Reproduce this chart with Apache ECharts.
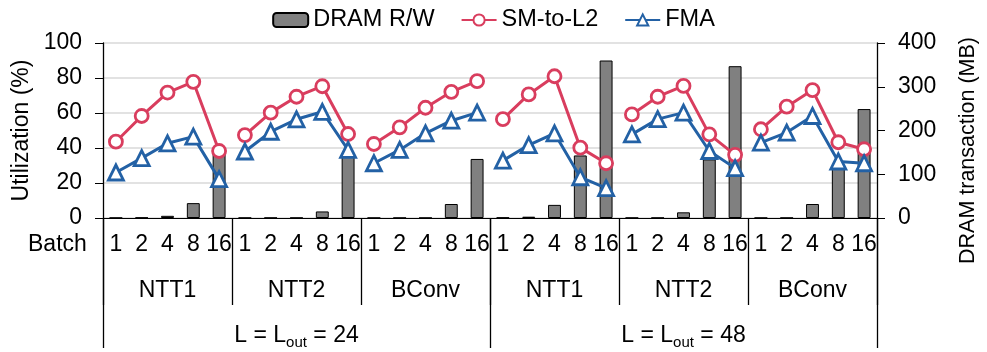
<!DOCTYPE html>
<html>
<head>
<meta charset="utf-8">
<script src="https://cdn.jsdelivr.net/npm/echarts@6/dist/echarts.min.js"></script>
<style>
  html, body { margin: 0; padding: 0; background: #fff; }
  #chart { width: 987px; height: 352px; }
</style>
</head>
<body>
<div id="chart"></div>
<script>
var batches = ["1", "2", "4", "8", "16"];
var kernels = ["NTT1", "NTT2", "BConv"];
var groups = ["24", "48"];

// DRAM R/W (MB), right axis
var dramRW = [0.5, 1, 5, 34, 155,   0.5, 0.5, 0.5, 15, 140,   0.3, 0.3, 0.3, 32, 135,
              1, 3, 30, 143, 360,   0.5, 0.5, 13, 134, 347,   0.3, 0.3, 32, 112, 249];
// utilization (%), left axis
var smToL2 = [43.6, 58.3, 71.7, 77.8, 38.3,   47.4, 60.2, 69.3, 75.3, 48.0,   42.3, 51.8, 63.0, 72.1, 78.2,
              56.5, 70.6, 81.0, 40.2, 31.3,   59.2, 69.3, 75.5, 47.8, 36.1,   50.7, 63.6, 73.1, 43.3, 39.3];
var fma = [26.0, 34.2, 42.7, 46.5, 22.2,   38.0, 49.3, 56.4, 60.7, 38.9,   31.3, 38.9, 48.4, 55.6, 60.2,
           32.8, 41.7, 48.4, 23.3, 17.1,   47.8, 56.5, 60.2, 38.3, 28.5,   43.1, 48.8, 58.3, 32.3, 31.3];

var FONT = "Liberation Sans, Arial, sans-serif";
var FS = 23;
var RED = "#d93d5e";
var BLUE = "#2361a5";

// categories
var batchCats = [], kernelCats = [], groupCats = [];
groups.forEach(function (g) {
    groupCats.push(g);
    kernels.forEach(function (k) {
        kernelCats.push(k);
        batches.forEach(function (b) { batchCats.push(b); });
    });
});

// one line segment per kernel so lines break between kernels
function segments(name, values, color, symbol, size) {
    var out = [];
    for (var s = 0; s < kernelCats.length; s++) {
        var d = values.map(function (v, i) {
            return Math.floor(i / batches.length) == s ? v : null;
        });
        out.push({
            name: name,
            type: "line",
            xAxisIndex: 0,
            yAxisIndex: 0,
            data: d,
            symbol: symbol,
            symbolSize: size,
            z: 5,
            lineStyle: { color: color, width: 3 },
            itemStyle: { color: "#fff", borderColor: color, borderWidth: 2.8 }
        });
    }
    return out;
}

var series = [{
    name: "DRAM R/W",
    type: "bar",
    xAxisIndex: 0,
    yAxisIndex: 1,
    data: dramRW,
    barWidth: "50%",
    z: 2,
    itemStyle: { color: "#808080", borderColor: "#000", borderWidth: 1 }
}];
series = series.concat(segments("SM-to-L2", smToL2, RED, "circle", 13));
series = series.concat(segments("FMA", fma, BLUE, "triangle", 15));

var option = {
    animation: false,
    textStyle: { fontFamily: FONT },
    legend: {
        data: ["DRAM R/W", "SM-to-L2", "FMA"],
        top: 3,
        left: "center",
        itemWidth: 35,
        itemHeight: 14,
        itemGap: 26,
        textStyle: { fontSize: 23.5, color: "#000", fontFamily: FONT }
    },
    grid: { left: 103, right: 109, top: 43, bottom: 134 },
    xAxis: [
        {
            type: "category",
            data: batchCats,
            position: "bottom",
            axisLine: { show: true, lineStyle: { color: "#000", width: 1 } },
            axisTick: { show: false },
            axisLabel: { interval: 0, fontSize: FS, color: "#000", margin: 15, fontFamily: FONT }
        },
        {
            type: "category",
            data: kernelCats,
            position: "bottom",
            axisLine: { show: false },
            axisTick: { show: true, length: 87, lineStyle: { color: "#000", width: 1.3 } },
            axisLabel: { interval: 0, fontSize: FS, color: "#000", margin: 61, fontFamily: FONT }
        },
        {
            type: "category",
            data: groupCats,
            position: "bottom",
            axisLine: { show: false },
            axisTick: { show: true, length: 130, lineStyle: { color: "#000", width: 1.3 } },
            axisLabel: {
                interval: 0, fontSize: FS, color: "#000", margin: 103, fontFamily: FONT,
                formatter: function (v) { return "L = L{sub|out} = " + v; },
                rich: { sub: { fontSize: 15, verticalAlign: "bottom", padding: [14, 0, 0, 0], fontFamily: FONT } }
            }
        }
    ],
    yAxis: [
        {
            type: "value",
            min: 0, max: 100, interval: 20,
            name: "Utilization (%)",
            nameLocation: "middle",
            nameGap: 70,
            nameTextStyle: { fontSize: 23, color: "#000", fontFamily: FONT },
            axisLine: { show: true, lineStyle: { color: "#000", width: 1.3 } },
            axisTick: { show: true, length: 8, lineStyle: { color: "#000" } },
            splitLine: { lineStyle: { color: "#d9d9d9", width: 1.5 } },
            axisLabel: { fontSize: FS, color: "#000", margin: 21, fontFamily: FONT }
        },
        {
            type: "value",
            min: 0, max: 400, interval: 100,
            position: "right",
            name: "DRAM transaction (MB)",
            nameLocation: "middle",
            nameGap: 80,
            nameRotate: 90,
            nameTextStyle: { fontSize: 21.5, color: "#000", fontFamily: FONT, padding: [0, 40, 0, 0] },
            axisLine: { show: true, lineStyle: { color: "#000", width: 1.3 } },
            axisTick: { show: true, length: 8, lineStyle: { color: "#000" } },
            splitLine: { show: false },
            axisLabel: { fontSize: FS, color: "#000", margin: 21, fontFamily: FONT }
        }
    ],
    graphic: [{
        type: "text",
        left: 28,
        top: 233,
        style: { text: "Batch", fill: "#000", font: FS + "px " + FONT }
    }],
    series: series
};

var myChart = echarts.init(document.getElementById("chart"));
myChart.setOption(option);
</script>
</body>
</html>
